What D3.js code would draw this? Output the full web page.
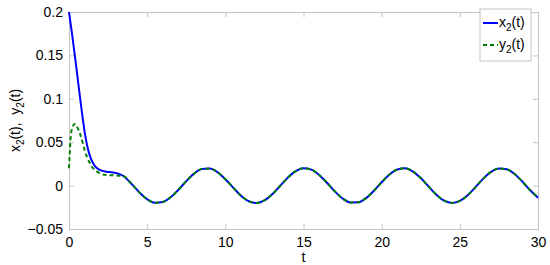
<!DOCTYPE html>
<html>
<head>
<meta charset="utf-8">
<script src="https://cdn.jsdelivr.net/npm/d3@7"></script>
<style>
  body { margin: 0; background: #fff; }
  svg { display: block; font-family: "Liberation Sans", Arial, sans-serif; }
  .axis path, .axis line { stroke: #c4c4c4; }
  .axis text { fill: #000; font-size: 14px; }
</style>
</head>
<body>
<div id="chart"></div>
<script>
const F_WIDTH = 550;
const F_HEIGHT = 265;
const MARGINS = {left: 69, right: 12, top: 12, bottom: 36};
const VIS_WIDTH = F_WIDTH - MARGINS.left - MARGINS.right;
const VIS_HEIGHT = F_HEIGHT - MARGINS.top - MARGINS.bottom;

// early transient
const T_X2 = [0, 0.2, 0.4, 0.6, 0.8, 1.0, 1.2, 1.4, 1.6, 1.8, 2.0, 2.4, 2.8, 3.2];
const X2_EARLY = [0.2, 0.174, 0.146, 0.117, 0.088, 0.062, 0.043, 0.031, 0.024, 0.020, 0.0178, 0.016, 0.0152, 0.0135];
const T_Y2 = [0, 0.05, 0.1, 0.2, 0.37, 0.5, 0.7, 0.85, 1.0, 1.15, 1.33, 1.5, 1.65, 1.85, 2.07, 2.5, 3.0];
const Y2_EARLY = [0.02, 0.038, 0.054, 0.066, 0.071, 0.068, 0.06, 0.051, 0.041, 0.033, 0.026, 0.021, 0.018, 0.0155, 0.0134, 0.012, 0.0118];

// shared oscillation (both curves overlap from t = 3.5)
const T_TAIL = [3.5, 4, 4.5, 5, 5.5, 6, 6.5, 7, 7.5, 8, 8.5, 9, 9.5, 10, 10.5, 11, 11.5, 12,
  12.5, 13, 13.5, 14, 14.5, 15, 15.5, 16, 16.5, 17, 17.5, 18, 18.5, 19, 19.5, 20, 20.5, 21,
  21.5, 22, 22.5, 23, 23.5, 24, 24.5, 25, 25.5, 26, 26.5, 27, 27.5, 28, 28.5, 29, 29.5, 30];
const TAIL = [0.0108, 0.002, -0.0078, -0.0157, -0.0197, -0.0189, -0.0135, -0.0048, 0.0051, 0.0138, 0.019, 0.0196, 0.0154, 0.0074, -0.0023, -0.0116, -0.018, -0.02,
  -0.0171, -0.010, -0.0005, 0.0092, 0.0166, 0.0199, 0.0184, 0.0123, 0.0033, -0.0066, -0.0148, -0.0194, -0.0193, -0.0144, -0.006, 0.0038, 0.0128, 0.0186,
  0.0199, 0.0162, 0.0087, -0.001, -0.0105, -0.0174, -0.02, -0.0177, -0.0111, -0.0018, 0.008, 0.0158, 0.0197, 0.0188, 0.0134, 0.0046, -0.0053, -0.0139];

const X_TICKS = [0, 5, 10, 15, 20, 25, 30];
const Y_TICKS = [-0.05, 0, 0.05, 0.1, 0.15, 0.2];

const SERIES = [
  {name: "x", t: T_X2.concat(T_TAIL), v: X2_EARLY.concat(TAIL), color: "#0000ff", dash: null},
  {name: "y", t: T_Y2.concat(T_TAIL), v: Y2_EARLY.concat(TAIL), color: "#008000", dash: "4,3"}
];

const svg = d3.select("#chart").append("svg")
  .attr("width", F_WIDTH)
  .attr("height", F_HEIGHT);

const X_SCALE = d3.scaleLinear().domain([0, 30]).range([0, VIS_WIDTH]);
const Y_SCALE = d3.scaleLinear().domain([-0.05, 0.2]).range([VIS_HEIGHT, 0]);

const plot = svg.append("g")
  .attr("transform", "translate(" + MARGINS.left + "," + MARGINS.top + ")");

// bottom + left axes with labels, ticks pointing in
plot.append("g").attr("class", "axis")
  .attr("transform", "translate(0," + VIS_HEIGHT + ")")
  .call(d3.axisBottom(X_SCALE).tickValues(X_TICKS).tickSize(-5).tickPadding(8).tickFormat(d3.format("d")));

plot.append("g").attr("class", "axis")
  .call(d3.axisLeft(Y_SCALE).tickValues(Y_TICKS).tickSize(-5).tickPadding(6)
    .tickFormat(d => d === 0 ? "0" : String(+d.toFixed(2)).replace("-", "\u2212")));

// mirrored top + right axes (no labels)
plot.append("g").attr("class", "axis")
  .call(d3.axisTop(X_SCALE).tickValues(X_TICKS).tickSize(-5).tickFormat(""));
plot.append("g").attr("class", "axis")
  .attr("transform", "translate(" + VIS_WIDTH + ",0)")
  .call(d3.axisRight(Y_SCALE).tickValues(Y_TICKS).tickSize(-5).tickFormat(""));

const line = d3.line()
  .x(d => X_SCALE(d[0]))
  .y(d => Y_SCALE(d[1]))
  .curve(d3.curveMonotoneX);

plot.selectAll(".series")
  .data(SERIES)
  .enter()
  .append("path")
    .attr("class", "series")
    .attr("fill", "none")
    .attr("stroke", d => d.color)
    .attr("stroke-width", 2)
    .attr("stroke-dasharray", d => d.dash)
    .attr("d", d => line(d.t.map((t, i) => [t, d.v[i]])));

// axis titles
svg.append("text")
  .attr("x", MARGINS.left + VIS_WIDTH / 2)
  .attr("y", 262)
  .attr("text-anchor", "middle")
  .attr("font-size", 14)
  .text("t");

const yLabel = svg.append("text")
  .attr("transform", "translate(20," + (MARGINS.top + VIS_HEIGHT / 2) + ") rotate(-90)")
  .attr("text-anchor", "middle")
  .attr("font-size", 14);
yLabel.append("tspan").text("x");
yLabel.append("tspan").attr("font-size", 10).attr("dy", 4).text("2");
yLabel.append("tspan").attr("dy", -4).text("(t),\u00a0\u00a0y");
yLabel.append("tspan").attr("font-size", 10).attr("dy", 4).text("2");
yLabel.append("tspan").attr("dy", -4).text("(t)");

// legend
const legend = svg.append("g").attr("transform", "translate(480,9)");
legend.append("rect")
  .attr("width", 51).attr("height", 52)
  .attr("fill", "#fff").attr("stroke", "#c4c4c4");

const rows = legend.selectAll(".row")
  .data(SERIES)
  .enter()
  .append("g")
    .attr("transform", (d, i) => "translate(0," + (14 + i * 22) + ")");

rows.append("line")
  .attr("x1", 3).attr("x2", 18)
  .attr("stroke", d => d.color)
  .attr("stroke-width", 2)
  .attr("stroke-dasharray", d => d.dash);

const lt = rows.append("text")
  .attr("x", 19).attr("y", 4)
  .attr("font-size", 14);
lt.append("tspan").text(d => d.name);
lt.append("tspan").attr("font-size", 10).attr("dy", 4).text("2");
lt.append("tspan").attr("dy", -4).text("(t)");
</script>
</body>
</html>
